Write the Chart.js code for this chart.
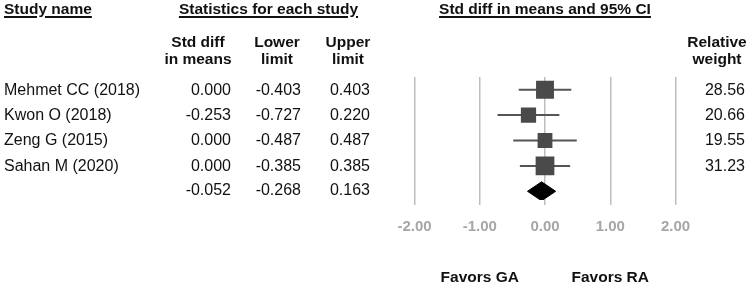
<!DOCTYPE html>
<html>
<head>
<meta charset="utf-8">
<script src="https://cdn.jsdelivr.net/npm/chart.js@4.4.0/dist/chart.umd.min.js"></script>
<style>
body { margin: 0; background: #fff; }
#wrap { position: relative; width: 753px; height: 287px; font-family: "Liberation Sans", Arial, sans-serif; color: #111; }
#forest { position: absolute; left: 0; top: 0; }
.t { position: absolute; white-space: nowrap; line-height: 18px; font-size: 16px; }
.b { font-weight: bold; font-size: 15.5px; }
.u { text-decoration: underline; text-decoration-thickness: 1.5px; text-underline-offset: 2px; }
</style>
</head>
<body>
<div id="wrap"><canvas id="forest" width="753" height="287"></canvas></div>
<script>
const studies = ["Mehmet CC (2018)", "Kwon O (2018)", "Zeng G (2015)", "Sahan M (2020)"];
const stdDiff = [0.000, -0.253, 0.000, 0.000];
const lowerLimit = [-0.403, -0.727, -0.487, -0.385];
const upperLimit = [0.403, 0.220, 0.487, 0.385];
const relWeight = [28.56, 20.66, 19.55, 31.23];
const pooled = [-0.052, -0.268, 0.163]; // est, lower, upper
const xTicks = [-2, -1, 0, 1, 2];
const favorsLabels = ["Favors GA", "Favors RA"];

const summaryRow = studies.length;
const sideK = 3.35;      // square side = k * sqrt(weight)
const diamondHalf = 0.374; // in row units

const wrap = document.getElementById("wrap");

function addText(text, x, cy, align, cls) {
    const el = document.createElement("div");
    el.className = "t " + (cls || "");
    el.textContent = text;
    el.style.top = (cy - 9) + "px";
    if (align === "right") {
        el.style.right = (753 - x) + "px";
        el.style.textAlign = "right";
    } else if (align === "center") {
        el.style.left = (x - 150) + "px";
        el.style.width = "300px";
        el.style.textAlign = "center";
    } else {
        el.style.left = x + "px";
    }
    wrap.appendChild(el);
}

const ciDatasets = studies.map((name, i) => ({
    label: name,
    data: [{ x: lowerLimit[i], y: i }, { x: upperLimit[i], y: i }],
    showLine: true,
    borderColor: '#555',
    borderWidth: 2,
    pointRadius: 0,
    order: 2
}));

const chart = new Chart(document.getElementById("forest").getContext("2d"), {
    type: 'scatter',
    data: {
        datasets: [
            {
                label: 'Std diff',
                data: stdDiff.map((v, i) => ({ x: v, y: i })),
                pointStyle: 'rect',
                pointRadius: relWeight.map(w => sideK * Math.sqrt(w) / Math.SQRT2),
                backgroundColor: '#4a4a4a',
                borderWidth: 0,
                pointBorderWidth: 0,
                order: 0
            },
            {
                label: 'Pooled',
                data: [
                    { x: pooled[1], y: summaryRow },
                    { x: pooled[0], y: summaryRow - diamondHalf },
                    { x: pooled[2], y: summaryRow },
                    { x: pooled[0], y: summaryRow + diamondHalf },
                    { x: pooled[1], y: summaryRow }
                ],
                showLine: true,
                fill: 'shape',
                backgroundColor: '#000',
                borderColor: '#000',
                borderWidth: 1,
                pointRadius: 0,
                order: 0
            },
            ...ciDatasets
        ]
    },
    options: {
        responsive: false,
        animation: false,
        devicePixelRatio: 1,
        layout: { padding: { left: 414.5, right: 77.5, top: 77, bottom: 0 } },
        plugins: { legend: { display: false }, tooltip: { enabled: false } },
        scales: {
            x: {
                type: 'linear',
                min: -2,
                max: 2,
                afterBuildTicks: s => { s.ticks = xTicks.map(v => ({ value: v })); },
                afterFit: s => { s.height = 87; },
                ticks: {
                    callback: v => Number(v).toFixed(2),
                    color: '#a6a6a6',
                    font: { family: '"Liberation Sans", Arial, sans-serif', size: 15, weight: 'bold' },
                    padding: 13,
                    maxRotation: 0
                },
                grid: { color: '#bdbdbd', lineWidth: 1.5, tickLength: 5, drawTicks: true },
                border: { display: false }
            },
            y: {
                type: 'linear',
                min: -0.5,
                max: 4.343,
                reverse: true,
                display: false
            }
        }
    }
});

// table text
const yS = chart.scales.y, xS = chart.scales.x;

addText("Study name", 4, 9, "left", "b u");
addText("Statistics for each study", 268.5, 9, "center", "b u");
addText("Std diff in means and 95% CI", 545, 9, "center", "b u");

[["Std diff", "in means", 198], ["Lower", "limit", 277], ["Upper", "limit", 348], ["Relative", "weight", 717]]
    .forEach(([a, b, cx]) => {
        addText(a, cx, 41.5, "center", "b");
        addText(b, cx, 58.5, "center", "b");
    });

studies.forEach((name, i) => {
    const cy = yS.getPixelForValue(i);
    addText(name, 4, cy, "left");
    addText(stdDiff[i].toFixed(3), 231, cy, "right");
    addText(lowerLimit[i].toFixed(3), 301, cy, "right");
    addText(upperLimit[i].toFixed(3), 370, cy, "right");
    addText(relWeight[i].toFixed(2), 745, cy, "right");
});

const sy = yS.getPixelForValue(summaryRow) - 1;
addText(pooled[0].toFixed(3), 231, sy, "right");
addText(pooled[1].toFixed(3), 301, sy, "right");
addText(pooled[2].toFixed(3), 370, sy, "right");

addText(favorsLabels[0], xS.getPixelForValue(-1), 276.7, "center", "b");
addText(favorsLabels[1], xS.getPixelForValue(1), 276.7, "center", "b");
</script>
</body>
</html>
